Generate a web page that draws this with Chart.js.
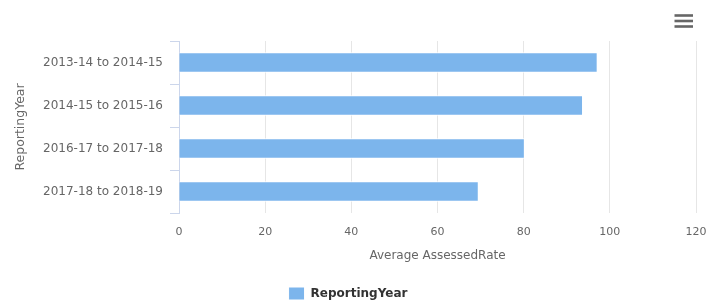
<!DOCTYPE html>
<html><head><meta charset="utf-8">
<script src="https://cdn.jsdelivr.net/npm/chart.js@4/dist/chart.umd.min.js"></script>
<style>html,body{margin:0;padding:0;background:#fff}#wrap{width:709px;height:302px;position:relative}</style>
</head><body><div id="wrap"><canvas id="c" width="709" height="302"></canvas></div>
<script>
const categories = ["2013-14 to 2014-15","2014-15 to 2015-16","2016-17 to 2017-18","2017-18 to 2018-19"];
const values = [97.1, 93.7, 80.2, 69.5];
const xTicks = [0,20,40,60,80,100,120];
const seriesName = "ReportingYear";
const xTitle = "Average AssessedRate";
const yTitle = "ReportingYear";

const FONT = "'DejaVu Sans', sans-serif";
const menuIcon = {
  id:'menuIcon',
  afterDraw(chart){
    const ctx = chart.ctx; ctx.save();
    ctx.strokeStyle = '#666'; ctx.lineWidth = 2.6; ctx.lineCap='butt';
    [15.5,21,26.5].forEach(y=>{ctx.beginPath();ctx.moveTo(674.5,y);ctx.lineTo(693,y);ctx.stroke();});
    ctx.restore();
  }
};
new Chart(document.getElementById('c'), {
  type:'bar',
  data:{labels:categories, datasets:[{label:seriesName, data:values, backgroundColor:'#7cb5ec', borderColor:'#ffffff', borderWidth:1, barThickness:20}]},
  options:{
    indexAxis:'y', responsive:false, animation:false,
    layout:{padding:{left:0,right:13,top:41,bottom:-8}},
    plugins:{
      legend:{position:'bottom', labels:{boxWidth:16, boxHeight:13, color:'#333', font:{family:FONT,size:12,weight:'bold'}, padding:2}},
      tooltip:{enabled:false}
    },
    scales:{
      x:{min:0,max:120,
        afterBuildTicks(s){s.ticks = xTicks.map(v=>({value:v}));},
        afterFit(s){s.paddingRight=0; s.paddingLeft=0; s.height=72;},
        grid:{color:(c)=>c.tick && c.tick.value===0?'rgba(0,0,0,0)':'#e6e6e6', drawTicks:false},
        border:{display:false},
        ticks:{color:'#666',font:{family:FONT,size:11},padding:13, maxRotation:0},
        title:{display:true,text:xTitle,color:'#666',font:{family:FONT,size:12},padding:{top:8,bottom:22}}
      },
      y:{
        afterFit(s){s.width=179;},
        grid:{color:'#ccd6eb',drawOnChartArea:false,tickLength:9,offset:true},
        border:{display:true,color:'#ccd6eb'},
        ticks:{color:'#666',font:{family:FONT,size:12},padding:7},
        title:{display:true,text:yTitle,color:'#666',font:{family:FONT,size:12.5},padding:{top:13,bottom:0}}
      }
    }
  },
  plugins:[menuIcon]
});
</script></body></html>
